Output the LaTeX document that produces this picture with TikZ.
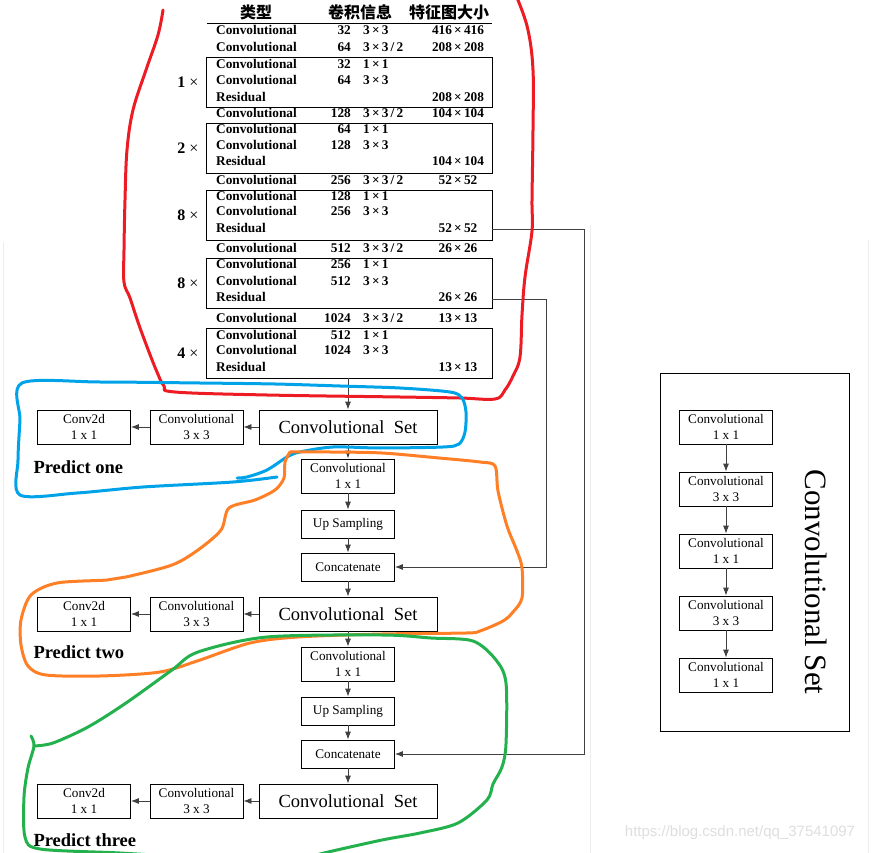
\documentclass[tikz,border=0pt]{standalone}
\usepackage{fontspec}
\setmainfont{Liberation Serif}
\newfontfamily\cjkfont{Noto Sans CJK SC}
\newfontfamily\wmfont{Liberation Sans}
\usetikzlibrary{shapes,arrows.meta}
\definecolor{penred}{HTML}{ED1C24}
\definecolor{penblue}{HTML}{00A2E8}
\definecolor{penorange}{HTML}{FF7F27}
\definecolor{pengreen}{HTML}{22B14C}

\begin{document}
\begin{tikzpicture}[x=1pt,y=-1pt]
\tikzset{
convbox/.style={rectangle,draw=black,line width=0.8pt,minimum width=93pt,minimum height=34pt,
inner sep=0pt,align=center,font=\fontsize{13.2}{16}\selectfont},
flatbox/.style={convbox,minimum height=28pt},
setbox/.style={convbox,minimum width=178pt,font=\fontsize{18.5}{20}\selectfont},
resbox/.style={rectangle,draw=black,line width=0.8pt,minimum width=286pt,minimum height=50pt},
cell/.style={inner sep=0pt,text height=9pt,text depth=3pt,font=\bfseries\fontsize{13.3}{14}\selectfont},
headcell/.style={font=\cjkfont\bfseries\fontsize{16}{16}\selectfont},
predlabel/.style={anchor=west,font=\bfseries\fontsize{18.5}{20}\selectfont},
myarrow/.style={-{Latex[length=8pt,width=6pt]},draw=black!75,line width=0.8pt},
penstroke/.style={line width=3pt,line cap=round,line join=round},
}
\useasboundingbox (0,0) rectangle (871,853);
% faint frame of the screenshot
\draw[black!7] (3,242) -- (3,853) (590,225) -- (590,853) (868,240) -- (868,853);

% backbone table
\node[headcell] (hdtype) at (256,12) {类型};
\node[headcell] (hdconv) at (360,12) {卷积信息};
\node[headcell] (hdsize) at (449,12) {特征图大小};
\draw[line width=0.8pt] (207,23) -- (492,23);
\foreach \c/\n/\nm in {82/1/res1,148/2/res2,215/8/res3,283/8/res4,353/4/res5}{
  \node[resbox] (\nm) at (349,\c) {};
  \node[font=\fontsize{16}{18}\selectfont] at (188,\c) {\textbf{\n} ×};
}
\foreach \y/\a/\b/\c/\d in {
  32/Convolutional/32/3\,×\,3/416\,×\,416, 49/Convolutional/64/{3\,×\,3\,/\,2}/208\,×\,208,
  66/Convolutional/32/1\,×\,1/, 82/Convolutional/64/3\,×\,3/, 99/Residual///208\,×\,208,
  115/Convolutional/128/{3\,×\,3\,/\,2}/104\,×\,104,
  131/Convolutional/64/1\,×\,1/, 147/Convolutional/128/3\,×\,3/, 163/Residual///104\,×\,104,
  182/Convolutional/256/{3\,×\,3\,/\,2}/52\,×\,52,
  198/Convolutional/128/1\,×\,1/, 213/Convolutional/256/3\,×\,3/, 230/Residual///52\,×\,52,
  250/Convolutional/512/{3\,×\,3\,/\,2}/26\,×\,26,
  266/Convolutional/256/1\,×\,1/, 283/Convolutional/512/3\,×\,3/, 299/Residual///26\,×\,26,
  320/Convolutional/1024/{3\,×\,3\,/\,2}/13\,×\,13,
  337/Convolutional/512/1\,×\,1/, 352/Convolutional/1024/3\,×\,3/, 368/Residual///13\,×\,13}{
  \node[cell,anchor=west] (row\y) at (216,\y) {\a};
  \node[cell,anchor=east] at (351,\y) {\b};
  \node[cell,anchor=west] at (363,\y) {\c};
  \node[cell] (size\y) at (458,\y) {\d};
}

% prediction heads
\node[setbox] (set1) at (348,427) {Convolutional~~Set};
\node[convbox, left of=set1, node distance=151.5pt] (conv1) {Convolutional\\3 x 3};
\node[convbox, left of=conv1, node distance=112.5pt] (pred1) {Conv2d\\1 x 1};
\node[predlabel] (lab1) at (30,467) {Predict one};
\node[convbox, below of=set1, node distance=49pt] (cbl1) {Convolutional\\1 x 1};
\node[flatbox, below of=cbl1, node distance=48pt] (up1) {Up Sampling};
\node[flatbox, below of=up1, node distance=43pt] (cat1) {Concatenate};
\node[setbox, below of=cat1, node distance=47pt] (set2) {Convolutional~~Set};
\node[convbox, left of=set2, node distance=151.5pt] (conv2) {Convolutional\\3 x 3};
\node[convbox, left of=conv2, node distance=112.5pt] (pred2) {Conv2d\\1 x 1};
\node[predlabel] (lab2) at (30,652) {Predict two};
\node[convbox, below of=set2, node distance=50pt] (cbl2) {Convolutional\\1 x 1};
\node[flatbox, below of=cbl2, node distance=47pt] (up2) {Up Sampling};
\node[flatbox, below of=up2, node distance=43pt] (cat2) {Concatenate};
\node[setbox, below of=cat2, node distance=47pt] (set3) {Convolutional~~Set};
\node[convbox, left of=set3, node distance=151.5pt] (conv3) {Convolutional\\3 x 3};
\node[convbox, left of=conv3, node distance=112.5pt] (pred3) {Conv2d\\1 x 1};
\node[predlabel] (lab3) at (30,840) {Predict three};

% convolutional set panel
\node[rectangle,draw=black,line width=0.8pt,minimum width=189pt,minimum height=358pt] (panel) at (754.5,552) {};
\node[convbox] (sa) at (726,427) {Convolutional\\1 x 1};
\node[convbox, below of=sa, node distance=62pt] (sb) {Convolutional\\3 x 3};
\node[convbox, below of=sb, node distance=62pt] (sc) {Convolutional\\1 x 1};
\node[convbox, below of=sc, node distance=62pt] (sd) {Convolutional\\3 x 3};
\node[convbox, below of=sd, node distance=62pt] (se) {Convolutional\\1 x 1};
\node[rotate=-90, font=\fontsize{31}{31}\selectfont] (settitle) at (816,582) {Convolutional Set};

\draw[myarrow] (res5.south -| set1) -- (set1);
\draw[myarrow] (set1) -- (conv1);
\draw[myarrow] (conv1) -- (pred1);
\draw[myarrow] (set1) -- (cbl1);
\draw[myarrow] (cbl1) -- (up1);
\draw[myarrow] (up1) -- (cat1);
\draw[myarrow] (cat1) -- (set2);
\draw[myarrow] (set2) -- (conv2);
\draw[myarrow] (conv2) -- (pred2);
\draw[myarrow] (set2) -- (cbl2);
\draw[myarrow] (cbl2) -- (up2);
\draw[myarrow] (up2) -- (cat2);
\draw[myarrow] (cat2) -- (set3);
\draw[myarrow] (set3) -- (conv3);
\draw[myarrow] (conv3) -- (pred3);
\coordinate (bus4) at (546,299);
\coordinate (bus3) at (584,229);
\draw[myarrow] (res4.east |- bus4) -- (bus4) |- (cat1.east);
\draw[myarrow] (res3.east |- bus3) -- (bus3) |- (cat2.east);
\draw[myarrow] (sa) -- (sb);
\draw[myarrow] (sb) -- (sc);
\draw[myarrow] (sc) -- (sd);
\draw[myarrow] (sd) -- (se);

\node[text=black!13, font=\wmfont\fontsize{15}{15}\selectfont] (mark) at (740,833) {https://blog.csdn.net/qq\_37541097};

% hand drawn marks
\begin{scope}
\clip (0,0) rectangle (871,853);
\draw[penstroke,penred] plot[smooth,tension=0.6] coordinates {(163,10) (158,35) (146,70) (133,110) (127,150)
  (125,200) (124,250) (124,282) (130,298) (139,325) (149,352) (157,372) (164,386) (175,392) (267,395)
  (400,397) (460,398) (495,399) (505,390) (513,376) (520,357) (522,315) (525,277) (532,231) (532,200)
  (533,130) (533,70) (528,30) (518,0) (515,-5)};
\draw[penstroke,penblue] plot[smooth,tension=0.5] coordinates {(277,477) (233,482) (143,487) (77,493) (20,495)
  (18,460) (20,420) (22,383) (100,382) (200,383) (275,384) (340,386) (400,388) (450,392) (462,398)
  (466,412) (465,432) (459,444) (443,447) (380,448) (333,447) (300,452) (287,457) (267,470) (247,477) (237,478)};
\draw[penstroke,penorange] plot[smooth,tension=0.5] coordinates {(290,452) (330,452) (382,453) (439,458)
  (480,462) (495,466) (498,491) (507,526) (517,551) (522,568) (522,598) (513,612) (503,621) (480,631)
  (466,633) (382,634) (298,637) (250,643) (200,660) (160,672) (100,676) (46,675) (28,666) (21,645)
  (21,620) (31,595) (57,583) (107,580) (126,577) (172,565) (198,550) (221,530) (229,508) (255,500)
  (275,490) (284,478) (285,462) (290,452)};
\draw[penstroke,pengreen] plot[smooth,tension=0.5] coordinates {(34,746) (53,743) (88,727) (126,703)
  (172,670) (198,652) (267,637) (382,635) (431,638) (473,641) (496,660) (506,683) (506,744) (502,767)
  (493,784) (487,800) (458,823) (420,833) (382,840) (324,853) (290,862)};
\draw[penstroke,pengreen] plot[smooth,tension=0.5] coordinates {(31,736) (34,746) (28,768) (24,797)
  (25,837) (40,849) (120,853) (200,858)};
\end{scope}
\end{tikzpicture}
\end{document}
